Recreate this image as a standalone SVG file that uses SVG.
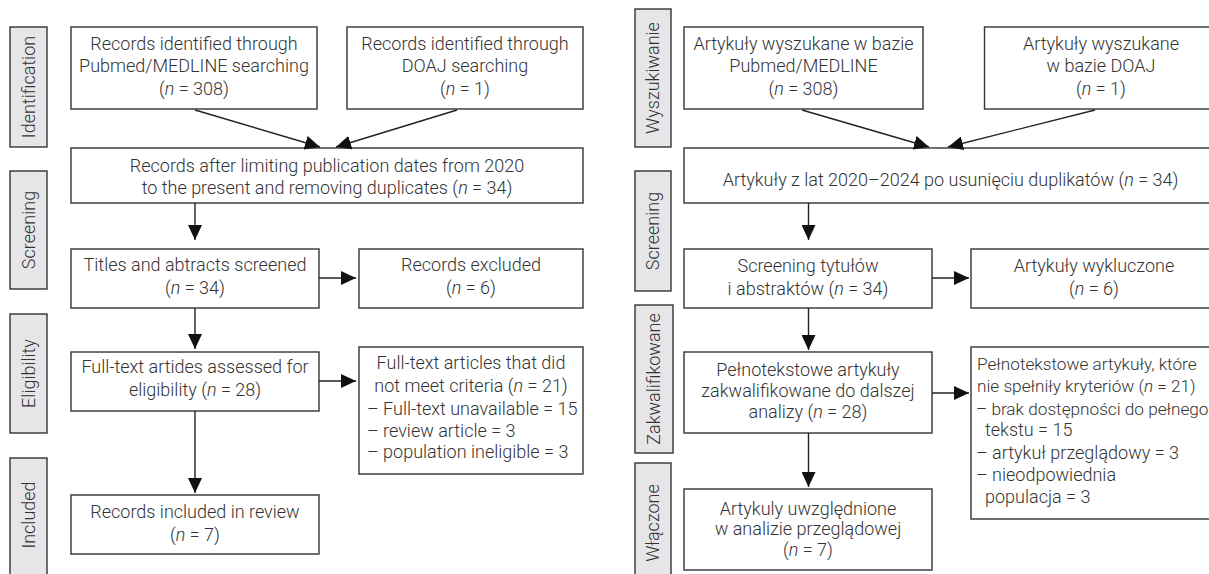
<svg xmlns="http://www.w3.org/2000/svg" width="1209" height="574" viewBox="0 0 1209 574">
<style>
text{font-family:Roboto,"Liberation Sans",sans-serif;font-weight:300;font-size:18px;fill:#333}
.c{text-anchor:middle}
.s{font-size:17.2px}
.box{fill:#fff;stroke:#333;stroke-width:1.4}
.lab{fill:#e6e6e8;stroke:#333;stroke-width:1.4}
.ln{stroke:#222;stroke-width:1.4;fill:none}
.i{font-style:italic}
</style>
<defs>
<marker id="ah" markerUnits="userSpaceOnUse" markerWidth="16" markerHeight="14" refX="15" refY="7" orient="auto">
<path d="M0,0 L15,7 L0,14 Z" fill="#111"/>
</marker>
</defs>
<rect width="1209" height="574" fill="#fff"/>

<!-- LEFT PANEL -->
<g id="lab-identification"><rect class="lab" x="10" y="27" width="37" height="120"/><text class="c" transform="translate(28.5,87) rotate(-90)" dy="0.35em">Identification</text></g>
<g id="lab-screening"><rect class="lab" x="10" y="171" width="37" height="118"/><text class="c" transform="translate(28.5,230) rotate(-90)" dy="0.35em">Screening</text></g>
<g id="lab-eligibility"><rect class="lab" x="10" y="314" width="37" height="119"/><text class="c" transform="translate(28.5,373.5) rotate(-90)" dy="0.35em">Eligibility</text></g>
<g id="lab-included"><rect class="lab" x="10" y="458" width="37" height="130"/><text class="c" transform="translate(28.5,515) rotate(-90)" dy="0.35em">Included</text></g>

<g id="l-pubmed"><rect class="box" x="71" y="27" width="246" height="82"/>
<text class="c" x="194" y="49.5">Records identified through</text>
<text class="c" x="194" y="72">Pubmed/MEDLINE searching</text>
<text class="c" x="194" y="94.5">(<tspan class="i">n</tspan> = 308)</text></g>

<g id="l-doaj"><rect class="box" x="347" y="27" width="236" height="82"/>
<text class="c" x="465" y="49.5">Records identified through</text>
<text class="c" x="465" y="72">DOAJ searching</text>
<text class="c" x="465" y="94.5">(<tspan class="i">n</tspan> = 1)</text></g>

<g id="l-after"><rect class="box" x="71" y="148" width="512" height="55"/>
<text class="c" x="327" y="172">Records after limiting publication dates from 2020</text>
<text class="c" x="327" y="193.5">to the present and removing duplicates (<tspan class="i">n</tspan> = 34)</text></g>

<g id="l-titles"><rect class="box" x="71" y="249" width="248" height="59"/>
<text class="c" x="195" y="271">Titles and abtracts screened</text>
<text class="c" x="195" y="294">(<tspan class="i">n</tspan> = 34)</text></g>

<g id="l-excluded"><rect class="box" x="359" y="249" width="224" height="59"/>
<text class="c" x="471" y="271">Records excluded</text>
<text class="c" x="471" y="294">(<tspan class="i">n</tspan> = 6)</text></g>

<g id="l-fulltext"><rect class="box" x="71" y="352" width="248" height="59"/>
<text class="c" x="195" y="373">Full-text artides assessed for</text>
<text class="c" x="195" y="396">eligibility (<tspan class="i">n</tspan> = 28)</text></g>

<g id="l-notmeet"><rect class="box" x="359" y="347" width="224" height="127"/>
<text class="c" x="471" y="369">Full-text articles that did</text>
<text class="c" x="471" y="392">not meet criteria (<tspan class="i">n</tspan> = 21)</text>
<text x="367" y="414.5">– Full-text unavailable = 15</text>
<text x="367" y="436.5">– review article = 3</text>
<text x="367" y="458">– population ineligible = 3</text></g>

<g id="l-included"><rect class="box" x="71" y="495" width="248" height="59"/>
<text class="c" x="195" y="518">Records included in review</text>
<text class="c" x="195" y="540.5">(<tspan class="i">n</tspan> = 7)</text></g>

<!-- RIGHT PANEL -->
<g id="lab-wyszukiwanie"><rect class="lab" x="635" y="9" width="36" height="138"/><text class="c" transform="translate(653,78) rotate(-90)" dy="0.35em">Wyszukiwanie</text></g>
<g id="lab-screening-pl"><rect class="lab" x="635" y="171" width="36" height="120"/><text class="c" transform="translate(653,231) rotate(-90)" dy="0.35em">Screening</text></g>
<g id="lab-zakwalifikowane"><rect class="lab" x="635" y="305" width="38" height="148"/><text class="c" transform="translate(654,379) rotate(-90)" dy="0.35em">Zakwalifikowane</text></g>
<g id="lab-wlaczone"><rect class="lab" x="635" y="463" width="36" height="125"/><text class="c" transform="translate(653,523) rotate(-90)" dy="0.35em">Włączone</text></g>

<g id="r-pubmed"><rect class="box" x="684" y="27" width="239" height="82"/>
<text class="c" x="803.5" y="49.5">Artykuły wyszukane w bazie</text>
<text class="c" x="803.5" y="72">Pubmed/MEDLINE</text>
<text class="c" x="803.5" y="94.5">(<tspan class="i">n</tspan> = 308)</text></g>

<g id="r-doaj"><rect class="box" x="984.5" y="27" width="240" height="82"/>
<text class="c" x="1101" y="49.5">Artykuły wyszukane</text>
<text class="c" x="1101" y="72">w bazie DOAJ</text>
<text class="c" x="1101" y="94.5">(<tspan class="i">n</tspan> = 1)</text></g>

<g id="r-after"><rect class="box" x="684" y="148" width="540" height="55"/>
<text class="c" x="950.5" y="186">Artykuły z lat 2020–2024 po usunięciu duplikatów (<tspan class="i">n</tspan> = 34)</text></g>

<g id="r-titles"><rect class="box" x="684" y="249" width="248" height="59"/>
<text class="c" x="808" y="272">Screening tytułów</text>
<text class="c" x="808" y="295">i abstraktów (<tspan class="i">n</tspan> = 34)</text></g>

<g id="r-excluded"><rect class="box" x="971" y="249" width="253" height="59"/>
<text class="c" x="1094" y="272">Artykuły wykluczone</text>
<text class="c" x="1094" y="295">(<tspan class="i">n</tspan> = 6)</text></g>

<g id="r-fulltext"><rect class="box" x="684" y="352" width="248" height="81"/>
<text class="c" x="808" y="376">Pełnotekstowe artykuły</text>
<text class="c" x="808" y="397">zakwalifikowane do dalszej</text>
<text class="c" x="808" y="418">analizy (<tspan class="i">n</tspan> = 28)</text></g>

<g id="r-notmeet"><rect class="box" x="971" y="347" width="253" height="172"/>
<text class="s" x="977" y="369.5">Pełnotekstowe artykuły, które</text>
<text class="s" x="977" y="392">nie spełniły kryteriów (<tspan class="i">n</tspan> = 21)</text>
<text class="s" x="976" y="415">– brak dostępności do pełnego</text>
<text x="985" y="436">tekstu = 15</text>
<text x="976" y="458.5">– artykuł przeglądowy = 3</text>
<text x="976" y="481">– nieodpowiednia</text>
<text x="985" y="503">populacja = 3</text></g>

<g id="r-included"><rect class="box" x="684" y="489" width="248" height="81"/>
<text class="c" x="808" y="514.5">Artykuly uwzględnione</text>
<text class="c" x="808" y="535">w analizie przeglądowej</text>
<text class="c" x="808" y="556">(<tspan class="i">n</tspan> = 7)</text></g>

<g id="connectors">
<line class="ln" x1="195" y1="110" x2="320" y2="147" marker-end="url(#ah)"/>
<line class="ln" x1="457" y1="110" x2="336" y2="147" marker-end="url(#ah)"/>
<line class="ln" x1="195" y1="203" x2="195" y2="240" marker-end="url(#ah)"/>
<line class="ln" x1="319" y1="278" x2="356" y2="278" marker-end="url(#ah)"/>
<line class="ln" x1="195" y1="308" x2="195" y2="349" marker-end="url(#ah)"/>
<line class="ln" x1="319" y1="381" x2="356" y2="381" marker-end="url(#ah)"/>
<line class="ln" x1="195" y1="411" x2="195" y2="493" marker-end="url(#ah)"/>

<line class="ln" x1="802" y1="110" x2="929" y2="147" marker-end="url(#ah)"/>
<line class="ln" x1="1095" y1="110" x2="948" y2="147" marker-end="url(#ah)"/>
<line class="ln" x1="808.5" y1="203" x2="808.5" y2="240" marker-end="url(#ah)"/>
<line class="ln" x1="932" y1="278" x2="969" y2="278" marker-end="url(#ah)"/>
<line class="ln" x1="808.5" y1="308" x2="808.5" y2="350" marker-end="url(#ah)"/>
<line class="ln" x1="932" y1="393" x2="969" y2="393" marker-end="url(#ah)"/>
<line class="ln" x1="808.5" y1="433" x2="808.5" y2="487" marker-end="url(#ah)"/>
</g>
</svg>
